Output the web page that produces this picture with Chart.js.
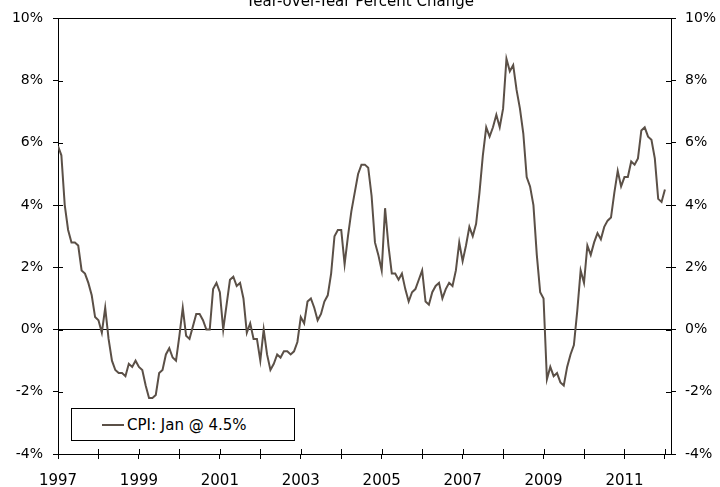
<!DOCTYPE html>
<html>
<head>
<meta charset="utf-8">
<script src="https://cdn.jsdelivr.net/npm/chart.js@4.4.1/dist/chart.umd.min.js"></script>
<style>
  html, body { margin: 0; padding: 0; background: #fff; }
  #wrap { position: relative; width: 720px; height: 487px; overflow: hidden; }
  #legend {
    position: absolute; left: 71px; top: 408px; width: 224px; height: 33px;
    box-sizing: border-box; border: 1px solid #000; background: #fff;
    display: flex; align-items: center; padding-left: 30px;
    font: 15px "DejaVu Sans", sans-serif; color: #000;
  }
  #legend .swatch { display: inline-block; width: 22px; height: 2px; margin-right: 3px; }
</style>
</head>
<body>
<div id="wrap">
  <canvas id="chart" width="720" height="487"></canvas>
  <div id="legend"><span class="swatch"></span><span class="txt"></span></div>
</div>
<script>
// China CPI, year-over-year % change, monthly Jan 1997 - Jan 2012
const startYear = 1997;
const cpi1997 = [5.9, 5.6, 4.0, 3.2, 2.8, 2.8, 2.7, 1.9, 1.8, 1.5, 1.1, 0.4];
const cpi1998 = [0.3, -0.1, 0.7, -0.3, -1.0, -1.3, -1.4, -1.4, -1.5, -1.1, -1.2, -1.0];
const cpi1999 = [-1.2, -1.3, -1.8, -2.2, -2.2, -2.1, -1.4, -1.3, -0.8, -0.6, -0.9, -1.0];
const cpi2000 = [-0.2, 0.7, -0.2, -0.3, 0.1, 0.5, 0.5, 0.3, 0.0, 0.0, 1.3, 1.5];
const cpi2001 = [1.2, 0.0, 0.8, 1.6, 1.7, 1.4, 1.5, 1.0, -0.1, 0.2, -0.3, -0.3];
const cpi2002 = [-1.0, 0.0, -0.8, -1.3, -1.1, -0.8, -0.9, -0.7, -0.7, -0.8, -0.7, -0.4];
const cpi2003 = [0.4, 0.2, 0.9, 1.0, 0.7, 0.3, 0.5, 0.9, 1.1, 1.8, 3.0, 3.2];
const cpi2004 = [3.2, 2.1, 3.0, 3.8, 4.4, 5.0, 5.3, 5.3, 5.2, 4.3, 2.8, 2.4];
const cpi2005 = [1.9, 3.9, 2.7, 1.8, 1.8, 1.6, 1.8, 1.3, 0.9, 1.2, 1.3, 1.6];
const cpi2006 = [1.9, 0.9, 0.8, 1.2, 1.4, 1.5, 1.0, 1.3, 1.5, 1.4, 1.9, 2.8];
const cpi2007 = [2.2, 2.7, 3.3, 3.0, 3.4, 4.4, 5.6, 6.5, 6.2, 6.5, 6.9, 6.5];
const cpi2008 = [7.1, 8.7, 8.3, 8.5, 7.7, 7.1, 6.3, 4.9, 4.6, 4.0, 2.4, 1.2];
const cpi2009 = [1.0, -1.6, -1.2, -1.5, -1.4, -1.7, -1.8, -1.2, -0.8, -0.5, 0.6, 1.9];
const cpi2010 = [1.5, 2.7, 2.4, 2.8, 3.1, 2.9, 3.3, 3.5, 3.6, 4.4, 5.1, 4.6];
const cpi2011 = [4.9, 4.9, 5.4, 5.3, 5.5, 6.4, 6.5, 6.2, 6.1, 5.5, 4.2, 4.1];
const cpi2012 = [4.5];

const seriesName = 'CPI: Jan @ 4.5%';
const titleText = 'Year-over-Year Percent Change';
const lineColor = '#5b5047';
const fontFamily = '"DejaVu Sans", sans-serif';

const allValues = [].concat(cpi1997, cpi1998, cpi1999, cpi2000, cpi2001, cpi2002, cpi2003,
  cpi2004, cpi2005, cpi2006, cpi2007, cpi2008, cpi2009, cpi2010, cpi2011, cpi2012);
const points = allValues.map((v, i) => ({ x: startYear + i / 12, y: v }));

// tick marks that also poke into the plot area (crossing ticks)
const innerTicks = {
  id: 'innerTicks',
  afterDraw(chart) {
    const ctx = chart.ctx;
    const area = chart.chartArea;
    ctx.save();
    ctx.strokeStyle = '#000';
    ctx.lineWidth = 1;
    ctx.beginPath();
    chart.scales.x.ticks.forEach((t, i) => {
      const px = Math.round(chart.scales.x.getPixelForTick(i)) + 0.5;
      ctx.moveTo(px, area.bottom);
      ctx.lineTo(px, area.bottom - 5);
    });
    chart.scales.y.ticks.forEach((t, i) => {
      const py = Math.round(chart.scales.y.getPixelForTick(i)) + 0.5;
      ctx.moveTo(area.left, py);
      ctx.lineTo(area.left + 5, py);
      ctx.moveTo(area.right, py);
      ctx.lineTo(area.right - 5, py);
    });
    ctx.stroke();
    ctx.restore();
  }
};

const xFont = { family: fontFamily, size: 15 };
const yFont = { family: fontFamily, size: 14 };

new Chart(document.getElementById('chart'), {
  type: 'line',
  data: {
    datasets: [{
      label: seriesName,
      data: points,
      borderColor: lineColor,
      borderWidth: 2,
      pointRadius: 0,
      tension: 0,
      xAxisID: 'x',
      yAxisID: 'y'
    }]
  },
  options: {
    responsive: false,
    animation: false,
    layout: { padding: 0 },
    plugins: {
      legend: { display: false },
      tooltip: { enabled: false },
      title: {
        display: true,
        text: titleText,
        color: '#000',
        font: { family: fontFamily, size: 15, weight: 'normal' },
        padding: { top: -9, bottom: 7 }
      }
    },
    scales: {
      x: {
        type: 'linear',
        position: 'bottom',
        min: 1997,
        max: 2012.15,
        afterFit: s => { s.height = 33; },
        ticks: {
          stepSize: 1,
          includeBounds: false,
          autoSkip: false,
          maxRotation: 0,
          padding: 13,
          color: '#000',
          font: xFont,
          callback: v => (v % 2 === 1 ? String(v) : '')
        },
        grid: { drawOnChartArea: false, tickLength: 5, color: '#000' },
        border: { color: '#000', width: 1 }
      },
      y: {
        position: 'left',
        min: -4,
        max: 10,
        afterFit: s => { s.width = 58; },
        ticks: { stepSize: 2, padding: 10, color: '#000', font: yFont, callback: v => v + '%' },
        grid: {
          color: c => (c.tick && (c.tick.value === 0 || c.tick.value === 10)) ? '#000' : 'rgba(0,0,0,0)',
          tickColor: '#000',
          tickLength: 5
        },
        border: { color: '#000', width: 1 }
      },
      y2: {
        position: 'right',
        display: true,
        min: -4,
        max: 10,
        afterFit: s => { s.width = 49; },
        ticks: { stepSize: 2, padding: 9, color: '#000', font: yFont, callback: v => v + '%' },
        grid: { drawOnChartArea: false, tickLength: 5, color: '#000' },
        border: { color: '#000', width: 1 }
      }
    }
  },
  plugins: [innerTicks]
});

document.querySelector('#legend .swatch').style.background = lineColor;
document.querySelector('#legend .txt').textContent = seriesName;
</script>
</body>
</html>
